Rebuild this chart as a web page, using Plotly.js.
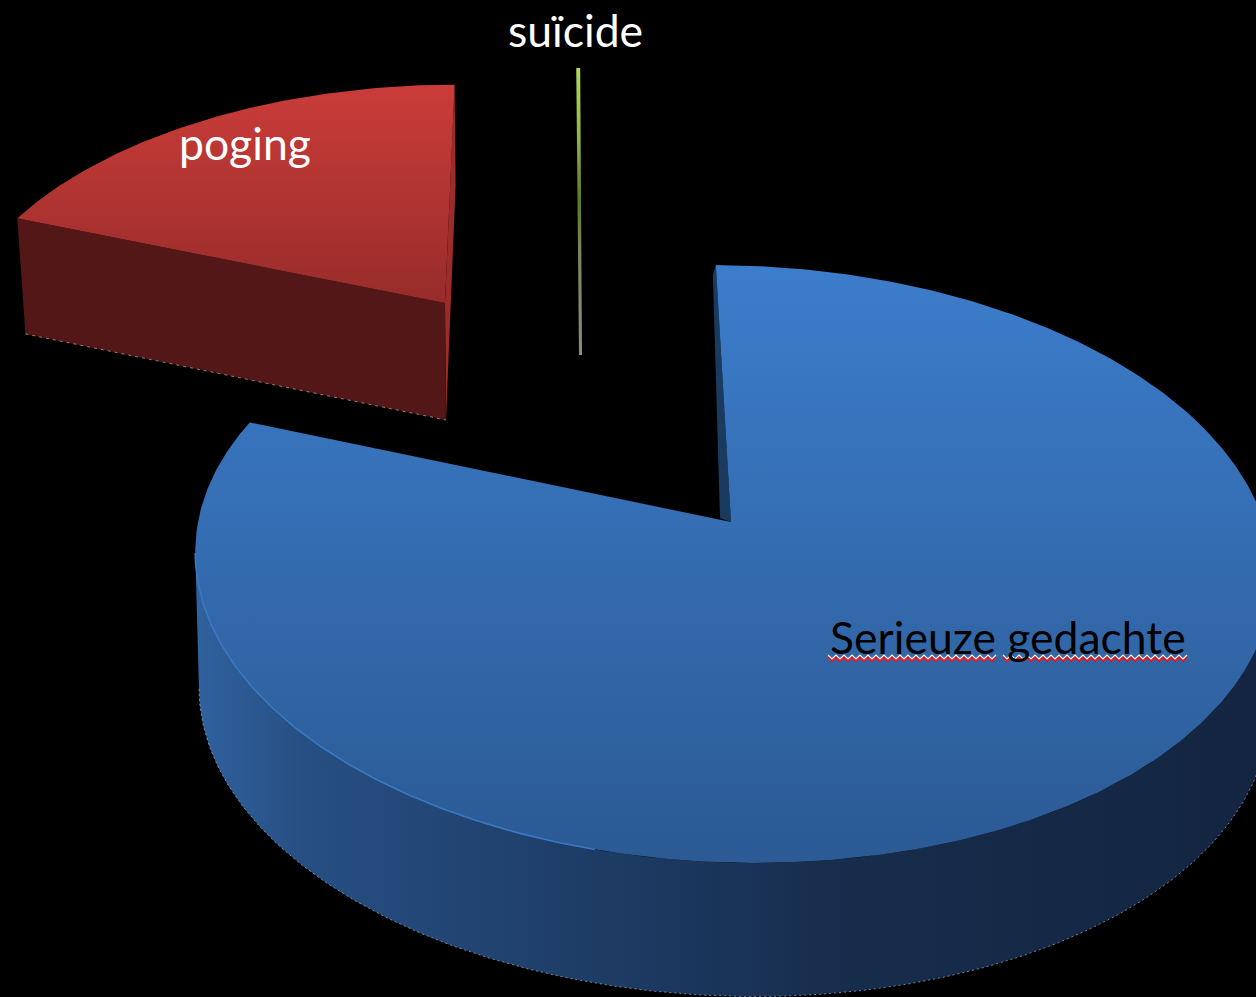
<!DOCTYPE html>
<html><head><meta charset="utf-8">
<script src="https://cdn.plot.ly/plotly-3.0.1.min.js"></script>
<style>html,body{margin:0;padding:0;background:#000;overflow:hidden}#c{width:1256px;height:997px}</style>
</head><body><div id="c"></div>
<script>
const categories = ["Serieuze gedachte", "poging", "suïcide"];
const values = [80.7, 19.1, 0.2];
const labelColors = ["#000000", "#ffffff", "#ffffff"];

const W = 1256, H = 997, startAngle = 0.4, K = 0.1405, A = 533, B = 293;
const total = values.reduce((a, b) => a + b, 0);
const rad = d => d * Math.PI / 180;

// per-slice placement of the exploded disc (apex, scale, skew, wall height)
const geo = [
  {ax: 731, ay: 522, sx: 1, sy: 1, C: -21, depth: 136, shrink: 0.993},
  {ax: 445, ay: 303, sx: 0.912, sy: 0.85, C: 15, depth: 114, shrink: 0.981},
  {ax: 580, ay: 240, sx: 0.67, sy: 0.67, C: -3.4, depth: 115, shrink: 1}
];
function P(g, deg, r, low) {
  const u = r * Math.sin(rad(deg)), v = r * Math.cos(rad(deg)), w = 1 + K * v;
  let x = g.sx * (A * u + g.C * v) / w, y = -g.sy * B * v / w;
  if (low) { x *= g.shrink; y = y * g.shrink + g.depth; }
  return [g.ax + x, g.ay + y];
}
function arc(g, a0, a1, low) {
  const n = Math.max(2, Math.ceil(Math.abs(a1 - a0) * 1.5)), pts = [];
  for (let i = 0; i <= n; i++) pts.push(P(g, a0 + (a1 - a0) * i / n, 1, low));
  return pts;
}
function poly(pts, fill, grad, line) {
  return {type: "scatter", mode: "lines", x: pts.map(p => p[0]), y: pts.map(p => p[1]),
    fill: "toself", fillcolor: grad ? undefined : fill, fillgradient: grad,
    line: line || {width: 0, color: "rgba(0,0,0,0)"}, hoverinfo: "skip", showlegend: false};
}
function stroke(pts, color, width, dash) {
  return {type: "scatter", mode: "lines", x: pts.map(p => p[0]), y: pts.map(p => p[1]),
    line: {color, width, dash: dash || "solid", shape: "linear"}, hoverinfo: "skip", showlegend: false};
}
function vgrad(y0, y1, stops) {
  return {type: "vertical", start: y0, stop: y1, colorscale: stops};
}

// slice angle ranges from the values
let acc = startAngle;
const ranges = values.map(v => { const r = [acc, acc + v / total * 360]; acc = r[1]; return r; });
const traces = [];

// ---- Serieuze gedachte ----
{
  const g = geo[0], [a0, a1] = ranges[0];
  // angle at which the rim reaches its leftmost point (wall silhouette)
  let leftA = 180;
  for (let d = 200; d < a1; d += 0.5) if (P(g, d, 1)[0] < P(g, leftA, 1)[0]) leftA = d;
  const wallTop = arc(g, 88, leftA, false);
  const wallLow = arc(g, leftA, 88, true);
  traces.push(poly(wallTop.concat(wallLow), null, {
    type: "horizontal", start: 196, stop: 1256,
    colorscale: [[0, "#30629f"], [0.1, "#274f83"], [0.35, "#1e3e68"], [0.6, "#172d4d"], [1, "#132540"]]
  }));
  traces.push(stroke(arc(g, leftA, 88, true), "rgba(205,215,225,0.55)", 1, "2px,3px"));
  // cut wall visible at the start of the slice
  const s = P(g, a0, 1, false);
  traces.push(poly([[s[0], s[1]], [g.ax, g.ay], [g.ax - 11, g.ay - 4], [s[0] - 3, s[1] + 10]], "#1a3a60"));
  const top = [[g.ax, g.ay]].concat(arc(g, a0, a1, false));
  traces.push(poly(top, null, vgrad(265, 863, [[0, "#3c7dcb"], [1, "#2b5a94"]])));
  traces.push(stroke(arc(g, 195, leftA, false), "#3a78c4", 1.6));
}
// ---- poging ----
{
  const g = geo[1], [a0, a1] = ranges[1];
  const e0 = P(g, a0, 1, false), e0l = P(g, a0, 1, true);
  const ap = [g.ax, g.ay], apl = [g.ax + 1, g.ay + g.depth + 3];
  const e1 = P(g, a1, 1, false);
  // inner side sliver on the right
  traces.push(poly([e1, [e1[0] + 1, e1[1] + 100], apl, ap], "#9c2c2a"));
  // front cut wall
  traces.push(poly([e0, ap, apl, e0l], "#521716"));
  traces.push(stroke([e0l, apl], "rgba(225,195,195,0.6)", 1, "3px,4px"));
  const top = [ap].concat(arc(g, a0, a1, false));
  traces.push(poly(top, null, vgrad(86, 303, [[0, "#ca3c39"], [1, "#972c2a"]])));
}
// ---- suïcide ----
{
  const g = geo[2], [a0, a1] = ranges[2];
  const ap = [g.ax, g.ay], apl = [g.ax + 1, g.ay + g.depth];
  const e = P(g, a0, 1, false), f = P(g, a1, 1, false);
  traces.push(poly([e, f, [apl[0] + 1, apl[1]], [apl[0] - 2, apl[1]]], null,
    vgrad(68, 355, [[0, "#b2d965"], [0.22, "#93b846"], [0.46, "#5c7a2c"], [0.62, "#77845c"], [1, "#8a9078"]])));
}
// ---- spell-check underline under the first label ----
const squiggles = [[828, 996], [1003, 1187]];
squiggles.forEach(([x0, x1]) => {
  const red = [], white = [];
  let i = 0;
  for (let x = x0; x <= x1; x += 4, i++) {
    red.push([x, 659 + (i % 2 ? 2 : -2)]);
    white.push([x, 657 + (i % 2 ? 2 : -2)]);
  }
  traces.push(stroke(red, "#e8141c", 2));
  traces.push(stroke(white, "#ffffff", 1.2));
});

const labelX = [1008, 245, 575.5], labelY = [636, 142, 29];
const annotations = categories.map((c, i) => ({
  text: c, x: labelX[i], y: labelY[i], xref: "x", yref: "y", showarrow: false,
  xanchor: "center", yanchor: "middle",
  font: {family: "Lato, 'Open Sans', sans-serif", size: 44.5, color: labelColors[i]}
}));

Plotly.newPlot("c", traces, {
  width: W, height: H, margin: {l: 0, r: 0, t: 0, b: 0, pad: 0},
  paper_bgcolor: "#000", plot_bgcolor: "#000", showlegend: false,
  xaxis: {range: [0, W], visible: false, fixedrange: true},
  yaxis: {range: [H, 0], visible: false, fixedrange: true},
  annotations
}, {displayModeBar: false, staticPlot: true});
</script></body></html>
